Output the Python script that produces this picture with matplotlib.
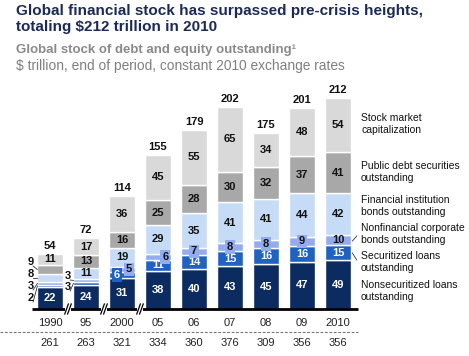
#!/usr/bin/env python3
"""Global financial stock, stacked bars by asset class."""

import matplotlib.pyplot as plt
from matplotlib.patches import Rectangle

YEARS = ["1990", "95", "2000", "05", "06", "07", "08", "09", "2010"]
NONSECURITIZED = [22, 24, 31, 38, 40, 43, 45, 47, 49]
SECURITIZED = [2, 3, 6, 11, 14, 15, 16, 16, 15]
NONFIN_CORP = [3, 3, 5, 6, 7, 8, 8, 9, 10]
FIN_INST = [8, 11, 19, 29, 35, 41, 41, 44, 42]
PUBLIC_DEBT = [9, 13, 16, 25, 28, 30, 32, 37, 41]
STOCK_MARKET = [11, 17, 36, 45, 55, 65, 34, 48, 54]
TOTALS = [54, 72, 114, 155, 179, 202, 175, 201, 212]
BOTTOM_ROW = [261, 263, 321, 334, 360, 376, 309, 356, 356]

SERIES = [
    ("Nonsecuritized loans\noutstanding", NONSECURITIZED, "#0c2b60", "white"),
    ("Securitized loans\noutstanding", SECURITIZED, "#1f62c4", "white"),
    ("Nonfinancial corporate\nbonds outstanding", NONFIN_CORP, "#93acee", "#111111"),
    ("Financial institution\nbonds outstanding", FIN_INST, "#c6dcf6", "#111111"),
    ("Public debt securities\noutstanding", PUBLIC_DEBT, "#a8a8a8", "#111111"),
    ("Stock market\ncapitalization", STOCK_MARKET, "#d9d9d9", "#111111"),
]

W, H = 469, 356
BASE_PX = 309  # baseline, pixels from top


def px(x, y):
    """pixel position (from top-left) -> figure fraction"""
    return x / W, 1 - y / H


def plot():
    fig = plt.figure(figsize=(W / 100, H / 100), dpi=100)
    plt.rcParams["font.family"] = ["Liberation Sans", "DejaVu Sans"]
    ax = fig.add_axes([0, 0, 1, 1])
    # 1 data unit = 1 px vertically, bar spacing 36 px starting at x=50
    ax.set_xlim(-50 / 36, (W - 50) / 36)
    ax.set_ylim(-(H - BASE_PX), BASE_PX)
    ax.axis("off")

    xs = list(range(len(YEARS)))
    bottoms = [0] * len(YEARS)
    seg_pos = []
    for name, vals, color, tcolor in SERIES:
        ax.bar(xs, vals, 0.7, bottom=bottoms, color=color,
               edgecolor="white", linewidth=1.0, zorder=2)
        seg_pos.append([b + v / 2 for b, v in zip(bottoms, vals)])
        bottoms = [b + v for b, v in zip(bottoms, vals)]

    # segment labels
    outside = {(0, 1), (0, 2), (0, 3), (0, 4), (1, 1), (1, 2)}
    boxed_shift = {(2, 1): -0.14, (2, 2): 0.2, (3, 2): 0.2}
    for si, (name, vals, color, tcolor) in enumerate(SERIES):
        for i, v in enumerate(vals):
            if (i, si) in outside:
                continue
            y = seg_pos[si][i]
            kw = {}
            dx = 0
            if v < 10 and si in (1, 2):
                dx = boxed_shift.get((i, si), 0)
                kw["bbox"] = dict(boxstyle="square,pad=0.15", fc=color, ec="none")
            ax.text(i + dx, y, str(v), ha="center", va="center", fontsize=8,
                    fontweight="bold", color=tcolor, zorder=4, **kw)

    # outside labels with leaders for 1990 and 1995
    left = [
        (0, 4, 47, -0.53), (0, 3, 35, -0.53), (0, 2, 23, -0.53), (0, 1, 11, -0.53),
        (1, 2, 33, -0.5), (1, 1, 22, -0.5),
    ]
    for i, si, ly, dx in left:
        ax.text(i + dx, ly, str(SERIES[si][1][i]), ha="center", va="center",
                fontsize=8, fontweight="bold", color="#111111")
        ax.plot([i + dx + 0.06, i - 0.35], [ly - 4, seg_pos[si][i]],
                color="#333333", lw=0.6)

    for i, t in enumerate(TOTALS):
        ax.text(i, bottoms[i] + 3, str(t), ha="center", va="bottom",
                fontsize=8, fontweight="bold", color="#111111")

    # baseline with axis breaks
    ax.plot([-0.5, 8.56], [0, 0], color="black", lw=2, zorder=3,
            solid_capstyle="butt")
    for b in (0.5, 1.5, 2.5):
        ax.add_patch(Rectangle((b - 0.08, -3), 0.16, 6, fc="white", ec="none", zorder=4))
        for off in (-0.04, 0.04):
            ax.plot([b + off - 0.05, b + off + 0.05], [-5, 5], color="black",
                    lw=0.9, zorder=5)

    for i, y in enumerate(YEARS):
        ax.text(i, -14, y, ha="center", va="center", fontsize=8, color="#222222")
    ax.plot([-50 / 36, 8.56], [-23, -23], color="#777777", lw=0.8, ls=(0, (2.5, 1.5)))
    for i, v in enumerate(BOTTOM_ROW):
        ax.text(i, -34, str(v), ha="center", va="center", fontsize=8, color="#222222")

    # legend labels on the right
    legend_y = [291, 262, 234, 206, 172, 124]
    for (name, vals, color, tcolor), ly in zip(SERIES, legend_y):
        fig.text(*px(361, ly), name, ha="left", va="center", fontsize=7.5,
                 color="#111111", linespacing=1.2)
    ax.plot([8.4, 8.52], [BASE_PX - 241, BASE_PX - 236], color="#333333", lw=0.6)
    ax.plot([8.4, 8.52], [BASE_PX - 253, BASE_PX - 260], color="#333333", lw=0.6)

    fig.text(*px(16, 19), "Global financial stock has surpassed pre-crisis heights,\n"
             "totaling $212 trillion in 2010", ha="left", va="center",
             fontsize=11, fontweight="bold", color="#1b2a57", linespacing=1.2)
    fig.text(*px(16, 50), "Global stock of debt and equity outstanding\u00b9",
             ha="left", va="center", fontsize=9.5, fontweight="bold", color="#8a8a8a")
    fig.text(*px(16, 66), "$ trillion, end of period, constant 2010 exchange rates",
             ha="left", va="center", fontsize=9.9, color="#7f7f7f")

    fig.savefig("out.png", dpi=100)


if __name__ == "__main__":
    plot()
